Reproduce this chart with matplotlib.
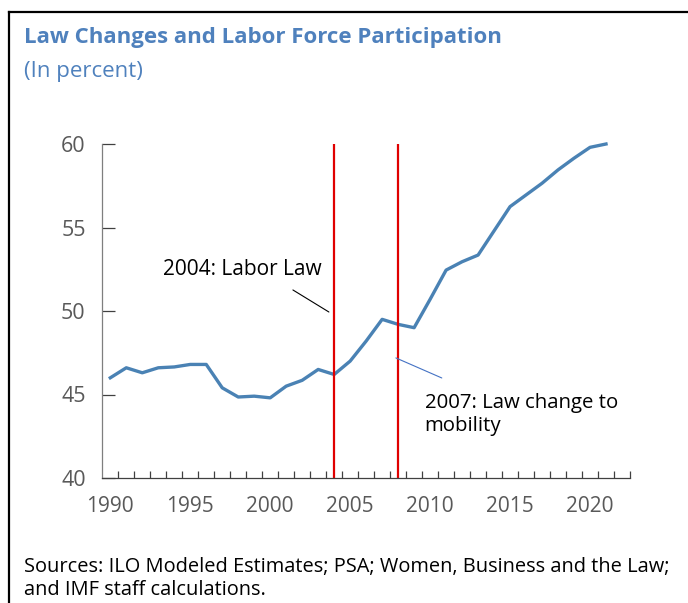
import matplotlib.pyplot as plt
import numpy as np

plt.rcParams['font.family'] = ['Open Sans', 'DejaVu Sans']

# labor force participation, in percent
years = list(range(1990, 2023))
participation = [46.0, 46.6, 46.3, 46.6, 46.65, 46.8, 46.8, 45.4, 44.85, 44.9,
                 44.8, 45.5, 45.85, 46.5, 46.2, 47.0, 48.2, 49.5, 49.2, 49.0,
                 50.7, 52.45, 52.95, 53.35, 54.8, 56.25, 56.95, 57.65, 58.45, 59.15,
                 59.8, 60.0, np.nan]
law_years = [2004, 2008]
year_labels = [1990, 1995, 2000, 2005, 2010, 2015, 2020]

title_blue = '#4f81bd'
line_blue = '#4a82b4'
grey = '#595959'

fig = plt.figure(figsize=(6.88, 6.03), dpi=100)
W, H = 688, 603

# frame around the figure (top and left edges visible)
fig.add_artist(plt.Line2D([9 / W, 1.0], [1 - 12 / H, 1 - 12 / H], color='black', lw=1.6))
fig.add_artist(plt.Line2D([9 / W, 9 / W], [0.0, 1 - 12 / H], color='black', lw=1.6))

fig.text(24 / W, 1 - 38 / H, 'Law Changes and Labor Force Participation', color=title_blue,
         fontsize=16, fontweight='bold', va='center', ha='left')
fig.text(24 / W, 1 - 72 / H, '(In percent)', color=title_blue, fontsize=16, va='center', ha='left')
fig.text(24 / W, 1 - 567 / H, 'Sources: ILO Modeled Estimates; PSA; Women, Business and the Law;',
         color='black', fontsize=14.4, va='center', ha='left')
fig.text(24 / W, 1 - 590 / H, 'and IMF staff calculations.',
         color='black', fontsize=14.4, va='center', ha='left')

ax = fig.add_axes([102.3 / W, 1 - 478 / H, (630 - 102.3) / W, (478 - 144) / H])
x = np.arange(len(years))
ax.plot(x, participation, color=line_blue, lw=2.4, clip_on=False)
for ly in law_years:
    ax.axvline(years.index(ly), color='#e00000', lw=1.6)

ax.set_xlim(-0.5, len(years) - 0.5)
ax.set_ylim(40, 60)
ax.set_yticks([40, 45, 50, 55, 60])
ax.set_xticks([years.index(y) for y in year_labels])
ax.set_xticklabels([str(y) for y in year_labels])
ax.set_xticks(np.arange(0.5, len(years)), minor=True)
ax.tick_params(axis='x', which='major', length=0, pad=13, labelsize=15, labelcolor=grey)
ax.tick_params(axis='x', which='minor', direction='in', length=5, width=0.9, color='#404040')
ax.tick_params(axis='y', direction='in', length=9, width=0.9, color='#404040', pad=12,
               labelsize=15.5, labelcolor=grey)
for s in ['top', 'right']:
    ax.spines[s].set_visible(False)
ax.spines['bottom'].set_color('#404040')
ax.spines['bottom'].set_linewidth(0.9)
ax.spines['left'].set_color('#7f7f7f')
ax.spines['left'].set_linewidth(0.9)

# annotations with leader lines
ax.text(3.3, 52.5, '2004: Labor Law', fontsize=15, color='black', va='center', ha='left')
ax.annotate('', xy=(13.67, 49.94), xytext=(11.42, 51.26),
            arrowprops=dict(arrowstyle='-', color='black', lw=0.8, shrinkA=0, shrinkB=0))
ax.text(19.65, 43.8, '2007: Law change to\nmobility', fontsize=14.7, color='black',
        va='center', ha='left', linespacing=1.25)
ax.annotate('', xy=(17.86, 47.19), xytext=(20.73, 45.99),
            arrowprops=dict(arrowstyle='-', color='#4472c4', lw=0.8, shrinkA=0, shrinkB=0))

fig.savefig('out.png', dpi=100)
